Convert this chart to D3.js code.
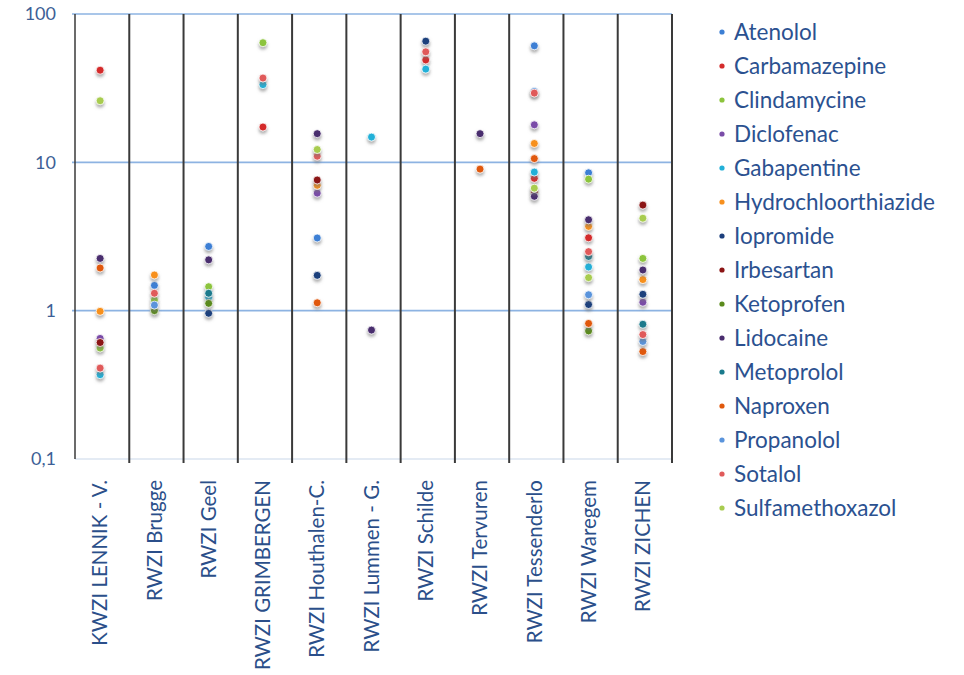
<!DOCTYPE html>
<html lang="en">
<head>
    <meta charset="UTF-8">
    <title>dot chart</title>
    <script src="https://d3js.org/d3.v7.min.js"></script>
    <style>
        body { margin: 0; background: #fff; overflow: hidden; }
        text { font-family: Lato, "Open Sans", sans-serif; }
    </style>
</head>
<body>
    <svg></svg>
    <script>
        const categories = ["KWZI LENNIK - V.", "RWZI Brugge", "RWZI Geel", "RWZI GRIMBERGEN", "RWZI Houthalen-C.",
            "RWZI Lummen - G.", "RWZI Schilde", "RWZI Tervuren", "RWZI Tessenderlo", "RWZI Waregem", "RWZI ZICHEN"];
        const compounds = ["Atenolol", "Carbamazepine", "Clindamycine", "Diclofenac", "Gabapentine",
            "Hydrochloorthiazide", "Iopromide", "Irbesartan", "Ketoprofen", "Lidocaine", "Metoprolol",
            "Naproxen", "Propanolol", "Sotalol", "Sulfamethoxazol"];
        const colors = ["#3c7fd4", "#d42b2b", "#8cc43c", "#7a4ca8", "#22b0d8", "#f7901e", "#1c3f7c",
            "#8b1414", "#5a8a1c", "#4a2d6e", "#1a7a8c", "#e0580c", "#5a94dc", "#e05a5a", "#a8cc50"];
        const yTicks = [0.1, 1, 10, 100];

        // one value per plant, null = not detected
        const atenolol        = [null, 1.48, 2.71, null, 3.09, null, null, null, 61, 8.5, null];
        const carbamazepine   = [41.8, null, null, 17.3, null, null, 49, null, 7.8, 3.1, null];
        const clindamycine    = [0.56, 1.18, 1.45, 64, null, null, null, null, null, 7.7, 2.25];
        const diclofenac      = [0.65, null, null, null, 6.2, null, null, null, 17.9, null, 1.14];
        const gabapentine     = [0.37, null, 1.23, 33.4, null, 14.8, 42.5, null, 8.6, 1.97, null];
        const hydrochloor     = [0.99, 1.74, null, null, 7.0, null, null, null, 13.4, 3.7, 1.62];
        const iopromide       = [null, null, 0.96, null, 1.73, null, 65.6, null, null, 1.1, 1.29];
        const irbesartan      = [0.61, null, null, null, 7.6, null, null, null, 6.3, null, 5.15];
        const ketoprofen      = [null, 1.0, 1.12, null, null, null, null, null, null, 0.73, null];
        const lidocaine       = [2.25, null, 2.2, null, 15.6, 0.74, null, 15.6, 5.9, 4.1, 1.88];
        const metoprolol      = [null, null, 1.31, null, null, null, null, null, null, 2.32, 0.81];
        const naproxen        = [1.94, null, null, null, 1.13, null, null, 9.0, 10.6, 0.82, 0.53];
        const propanolol      = [null, 1.09, null, null, null, null, null, null, 30, 1.28, 0.62];
        const sotalol         = [0.41, 1.31, null, 37, 11.0, null, 55.6, null, 29.3, 2.5, 0.69];
        const sulfamethoxazol = [26, null, null, null, 12.2, null, null, null, 6.7, 1.67, 4.2];

        const seriesValues = [atenolol, carbamazepine, clindamycine, diclofenac, gabapentine, hydrochloor,
            iopromide, irbesartan, ketoprofen, lidocaine, metoprolol, naproxen, propanolol, sotalol, sulfamethoxazol];

        const width = 964, height = 675;
        const plotLeft = 75, plotRight = 672, plotTop = 14, plotBottom = 459;

        const svg = d3.select("svg").attr("width", width).attr("height", height);

        const defs = svg.append("defs");
        const f = defs.append("filter").attr("id", "shadow")
            .attr("x", "-100%").attr("y", "-100%").attr("width", "300%").attr("height", "300%");
        f.append("feDropShadow").attr("dx", 0).attr("dy", 2.5).attr("stdDeviation", 1.5)
            .attr("flood-color", "#777").attr("flood-opacity", 0.6);

        const x = d3.scaleBand().domain(categories).range([plotLeft, plotRight]);
        const y = d3.scaleLog().domain([0.1, 100]).range([plotBottom, plotTop]);
        const color = d3.scaleOrdinal().domain(compounds).range(colors);

        // faint bottom line and horizontal grid
        svg.append("line")
            .attr("x1", plotLeft).attr("x2", plotRight).attr("y1", plotBottom).attr("y2", plotBottom)
            .attr("stroke", "#dbe5f1").attr("stroke-width", 1.5);
        svg.append("g").selectAll("line")
            .data(yTicks.filter(d => d > 0.1))
            .join("line")
            .attr("x1", plotLeft - 3).attr("x2", plotRight)
            .attr("y1", d => y(d)).attr("y2", d => y(d))
            .attr("stroke", "#8db3e2").attr("stroke-width", 1.6);

        // vertical separators
        const seps = categories.map(c => x(c)).concat([plotRight]);
        svg.append("g").selectAll("line")
            .data(seps)
            .join("line")
            .attr("x1", d => d).attr("x2", d => d)
            .attr("y1", plotTop).attr("y2", (d, i) => i === 0 ? plotBottom : plotBottom + 4)
            .attr("stroke", "#3a3a3a").attr("stroke-width", (d, i) => i === 0 ? 1.5 : 2);

        // y axis labels
        svg.append("g").selectAll("text")
            .data(yTicks)
            .join("text")
            .attr("x", 56).attr("y", d => y(d))
            .attr("dy", "0.35em")
            .attr("text-anchor", "end")
            .attr("fill", "#3d5f96")
            .style("font-size", "18px")
            .text(d => String(d).replace(".", ","));

        // x labels
        svg.append("g").selectAll("text")
            .data(categories)
            .join("text")
            .attr("transform", d => `translate(${x(d) + x.bandwidth() / 2 - 2},480) rotate(-90)`)
            .attr("dy", "0.35em")
            .attr("text-anchor", "end")
            .attr("fill", "#2b4f8a")
            .style("font-size", "20.5px")
            .text(d => d);

        // points
        const points = [];
        seriesValues.forEach((vals, si) => {
            vals.forEach((v, ci) => {
                if (v != null) points.push({ compound: compounds[si], cat: categories[ci], value: v });
            });
        });
        svg.append("g").selectAll("circle")
            .data(points)
            .join("circle")
            .attr("cx", d => x(d.cat) + x.bandwidth() / 2 - 2)
            .attr("cy", d => y(d.value))
            .attr("r", 4)
            .attr("fill", d => color(d.compound))
            .attr("stroke", "#fff").attr("stroke-width", 0.8)
            .attr("filter", "url(#shadow)");

        // legend
        const legend = svg.append("g").selectAll("g")
            .data(compounds)
            .join("g")
            .attr("transform", (d, i) => `translate(722,${32 + i * 34})`);
        legend.append("circle").attr("r", 2.6).attr("fill", d => color(d));
        legend.append("text")
            .attr("x", 12).attr("dy", "0.35em")
            .attr("fill", "#2b5190")
            .style("font-size", "22.5px")
            .text(d => d);
    </script>
</body>
</html>
